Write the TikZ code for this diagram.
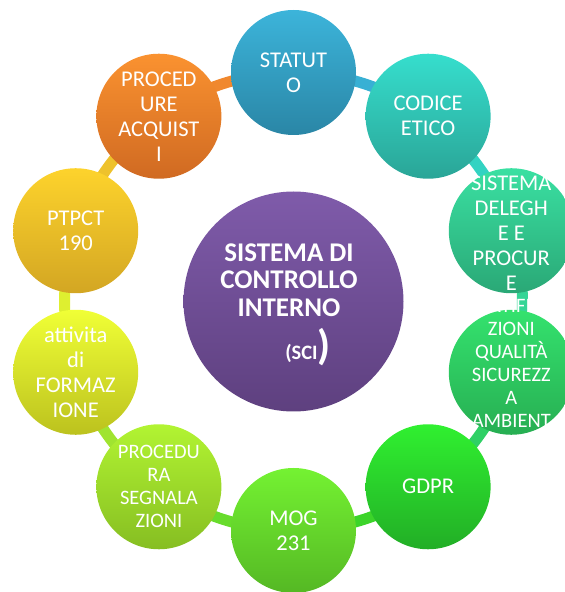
\documentclass[tikz,border=0pt]{standalone}
\usepackage{fontspec}
\setmainfont{Carlito}
\definecolor{cStatT}{HTML}{3CB4DA}\definecolor{cStatB}{HTML}{2A86A6}
\definecolor{cCodT}{HTML}{36DECD}\definecolor{cCodB}{HTML}{2AA597}
\definecolor{cSisT}{HTML}{3AE0A2}\definecolor{cSisB}{HTML}{2AA876}
\definecolor{cCerT}{HTML}{34E26E}\definecolor{cCerB}{HTML}{27AE52}
\definecolor{cGdpT}{HTML}{30F030}\definecolor{cGdpB}{HTML}{22AE26}
\definecolor{cMogT}{HTML}{74F232}\definecolor{cMogB}{HTML}{55B824}
\definecolor{cSegT}{HTML}{B2F432}\definecolor{cSegB}{HTML}{86BE22}
\definecolor{cForT}{HTML}{F0FF36}\definecolor{cForB}{HTML}{BCC21E}
\definecolor{cPtpT}{HTML}{FDD32C}\definecolor{cPtpB}{HTML}{D3A623}
\definecolor{cProT}{HTML}{FA9230}\definecolor{cProB}{HTML}{D06A22}
\definecolor{cCenT}{HTML}{7F5BAA}\definecolor{cCenB}{HTML}{5E407F}
\definecolor{lStat}{HTML}{38B0D4}
\definecolor{lCod}{HTML}{33D3C2}
\definecolor{lSis}{HTML}{35D596}
\definecolor{lCer}{HTML}{2FD065}
\definecolor{lGdp}{HTML}{3CD42A}
\definecolor{lMog}{HTML}{68DC2C}
\definecolor{lSeg}{HTML}{A0E430}
\definecolor{lFor}{HTML}{DEEF30}
\definecolor{lPtp}{HTML}{EEC22C}
\definecolor{lPro}{HTML}{F0882E}
\begin{document}
\begin{tikzpicture}[x=1pt,y=1pt]
\tikzset{
  bubble/.style={circle, minimum size=125pt, inner sep=0pt},
  btext/.style={text=white, align=center, inner sep=0pt, font=\fontsize{22.5}{25}\selectfont},
  small/.style={font=\fontsize{20.5}{23}\selectfont},
  link/.style={line width=11pt, bend left=18, looseness=0.87},
}
\useasboundingbox (0,0) rectangle (565,592);
\begin{scope}[shift={(293.5,290.5)}]
  \coordinate (ring) at (0,0);
  \path (90:229) coordinate (pStat);
  \path (54:229) coordinate (pCod);
  \path (18:229) coordinate (pSis);
  \path (-18:229) coordinate (pCer);
  \path (-54:229) coordinate (pGdp);
  \path (-90:229) coordinate (pMog);
  \path (-126:229) coordinate (pSeg);
  \path (-162:229) coordinate (pFor);
  \path (162:229) coordinate (pPtp);
  \path (126:229) coordinate (pPro);
\end{scope}
% connectors
\draw[link, lStat] (pStat) to (pCod);
\draw[link, lCod] (pCod) to (pSis);
\draw[link, lSis] (pSis) to (pCer);
\draw[link, lCer] (pCer) to (pGdp);
\draw[link, lGdp] (pGdp) to (pMog);
\draw[link, lMog] (pMog) to (pSeg);
\draw[link, lSeg] (pSeg) to (pFor);
\draw[link, lFor] (pFor) to (pPtp);
\draw[link, lPtp] (pPtp) to (pPro);
\draw[link, lPro] (pPro) to (pStat);
% center
\node[circle, minimum size=220pt, inner sep=0pt, top color=cCenT, bottom color=cCenB] (center) at (ring) {};
\node[text=white, align=center, font=\fontsize{27}{27.5}\selectfont\bfseries] (ctitle) at (289,287)
  {SISTEMA DI\\CONTROLLO\\INTERNO\\[11pt]\hspace*{38pt}{\fontsize{20.5}{20}\selectfont(SCI}{\fontsize{42}{42}\selectfont)}};
% outer bubbles
\node[bubble, top color=cStatT, bottom color=cStatB] (statuto) at (pStat) {};
\node[btext] (statuto-t) at (statuto) {STATUT\\O};
\node[bubble, top color=cCodT, bottom color=cCodB] (codice) at (pCod) {};
\node[btext] (codice-t) at (codice) {CODICE\\ETICO};
\node[bubble, top color=cSisT, bottom color=cSisB] (sistema) at (pSis) {};
\node[btext] (sistema-t) at ([yshift=-2pt]sistema.center) {SISTEMA\\DELEGH\\E E\\PROCUR\\E};
\node[bubble, top color=cCerT, bottom color=cCerB] (certif) at (pCer) {};
\node[btext, small] (certif-t) at ([yshift=-3pt]certif.center) {CERTIFICA\\ZIONI\\QUALITÀ\\SICUREZZ\\A\\AMBIENT\\E};
\node[bubble, top color=cGdpT, bottom color=cGdpB] (gdpr) at (pGdp) {};
\node[btext] (gdpr-t) at (gdpr) {GDPR};
\node[bubble, top color=cMogT, bottom color=cMogB] (mog) at (pMog) {};
\node[btext] (mog-t) at (mog) {MOG\\231};
\node[bubble, top color=cSegT, bottom color=cSegB] (segn) at (pSeg) {};
\node[btext, small] (segn-t) at (segn) {PROCEDU\\RA\\SEGNALA\\ZIONI};
\node[bubble, top color=cForT, bottom color=cForB] (form) at (pFor) {};
\node[btext] (form-t) at (form) {attivita\\di\\FORMAZ\\IONE};
\node[bubble, top color=cPtpT, bottom color=cPtpB] (ptpct) at (pPtp) {};
\node[btext] (ptpct-t) at (ptpct) {PTPCT\\190};
\node[bubble, top color=cProT, bottom color=cProB] (proc) at (pPro) {};
\node[btext] (proc-t) at (proc) {PROCED\\URE\\ACQUIST\\I};
\end{tikzpicture}
\end{document}
